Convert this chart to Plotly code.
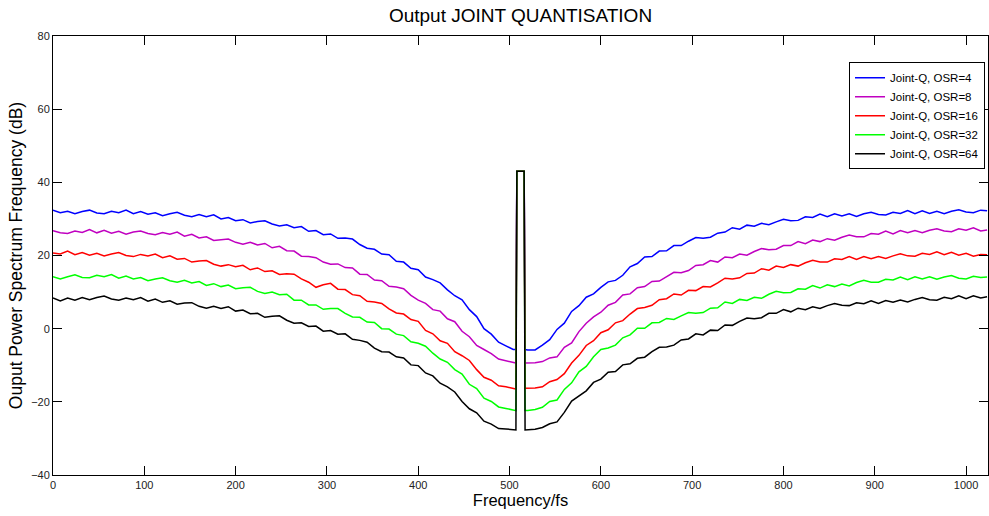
import plotly.graph_objects as go

# ---------------- data ----------------
left_freq = list(range(0, 505, 8)) + [507]
spike_freq = [508, 516]
right_freq = [517] + list(range(520, 1017, 8)) + [1023]

spike_db = [43.0, 43.0]

osr4_left = [32.4, 31.7, 32.1, 31.4, 32.0, 32.4, 31.6, 31.4, 32.1, 31.7, 32.4, 31.4,
             32.0, 31.3, 31.7, 30.9, 31.4, 31.8, 31.0, 30.6, 31.2, 30.6, 31.1, 30.0,
             30.4, 29.5, 29.8, 28.9, 29.3, 29.5, 28.6, 28.1, 28.4, 27.6, 27.9, 26.6,
             26.8, 25.7, 25.9, 24.7, 24.8, 24.5, 23.0, 22.0, 21.7, 20.4, 20.2, 18.4,
             18.2, 16.5, 16.1, 14.1, 13.4, 12.5, 10.6, 9.0, 7.9, 5.2, 3.3, 0.0,
             -1.5, -3.7, -4.7, -5.7, -5.7]
osr4_right = [-5.7, -5.8, -5.8, -4.5, -3.0, -0.2, 1.5, 4.7, 6.3, 8.6, 9.5, 11.3,
              12.8, 13.2, 14.6, 16.9, 17.8, 19.6, 19.7, 21.2, 21.3, 22.7, 22.7, 23.9,
              24.9, 24.7, 25.0, 26.1, 26.4, 27.6, 27.2, 28.3, 28.0, 28.8, 28.4, 29.2,
              29.9, 29.5, 29.6, 30.6, 30.4, 31.3, 30.6, 31.4, 30.8, 31.4, 30.7, 31.4,
              31.8, 31.2, 31.1, 31.8, 31.5, 32.3, 31.4, 32.2, 31.5, 32.1, 31.4, 32.1,
              32.5, 31.9, 31.7, 32.4, 32.2]

osr8_left = [26.8, 26.2, 26.0, 26.7, 26.3, 27.1, 26.2, 26.9, 26.1, 26.6, 25.8, 26.4,
             26.7, 26.0, 25.7, 26.3, 25.8, 26.4, 25.3, 25.8, 24.8, 25.1, 24.1, 24.4,
             24.5, 23.6, 23.1, 23.6, 22.9, 23.3, 22.1, 22.5, 21.3, 21.2, 19.8, 19.7,
             19.4, 18.2, 17.6, 17.7, 16.7, 16.6, 14.9, 14.8, 13.3, 13.1, 11.6, 11.4,
             10.9, 9.1, 7.8, 6.9, 5.2, 4.8, 2.7, 1.9, -0.7, -2.2, -4.6, -5.7,
             -6.8, -8.3, -8.8, -9.3, -9.4]
osr8_right = [-9.4, -9.4, -9.3, -9.0, -8.0, -7.7, -5.1, -3.9, -0.8, 1.5, 3.2, 4.5,
              6.4, 7.2, 9.2, 9.5, 11.2, 11.5, 12.9, 13.0, 14.3, 15.4, 15.3, 15.9,
              17.3, 17.5, 18.6, 18.2, 19.6, 19.4, 20.4, 20.1, 21.1, 21.9, 21.6, 21.7,
              22.7, 22.7, 23.8, 23.2, 24.2, 23.8, 24.6, 24.2, 25.0, 25.6, 25.1, 25.1,
              26.0, 25.8, 26.7, 25.9, 26.8, 26.2, 26.8, 26.2, 26.9, 27.3, 26.7, 26.5,
              27.3, 26.9, 27.6, 26.7, 27.0]

osr16_left = [20.7, 20.4, 21.2, 20.2, 20.8, 20.1, 20.6, 19.9, 20.4, 20.8, 20.0, 19.7,
              20.3, 19.9, 20.4, 19.4, 19.9, 19.0, 19.2, 18.2, 18.5, 18.6, 17.6, 17.1,
              17.5, 16.9, 17.3, 16.1, 16.6, 15.6, 15.8, 14.8, 15.0, 14.9, 13.6, 12.7,
              11.3, 12.0, 12.4, 10.8, 10.7, 9.3, 9.0, 7.5, 7.3, 6.9, 5.4, 4.3,
              4.0, 2.5, 2.0, -0.5, -1.4, -3.3, -4.0, -6.3, -7.4, -8.7, -11.2, -13.3,
              -14.1, -15.6, -15.9, -16.4, -16.5]
osr16_right = [-16.3, -16.3, -16.2, -15.9, -14.5, -13.9, -12.3, -9.4, -7.3, -4.6, -3.3, -1.1,
               -0.3, 1.6, 2.2, 4.0, 5.5, 5.8, 6.4, 7.9, 8.2, 9.5, 9.2, 10.5,
               10.4, 11.5, 11.4, 12.5, 13.8, 13.6, 13.9, 15.1, 15.2, 16.4, 16.0, 17.1,
               16.7, 17.5, 17.1, 18.0, 18.7, 18.2, 18.2, 19.1, 18.9, 19.7, 18.9, 19.7,
               19.1, 19.7, 19.2, 19.9, 20.5, 19.9, 19.8, 20.6, 20.3, 21.0, 20.2, 20.9,
               20.1, 20.6, 19.8, 20.3, 20.2]

osr32_left = [14.2, 13.6, 14.2, 14.7, 14.0, 13.9, 14.6, 14.2, 14.8, 13.8, 14.4, 13.6,
              14.0, 13.1, 13.6, 13.9, 13.1, 12.7, 13.2, 12.5, 12.9, 11.8, 12.3, 11.5,
              11.9, 10.9, 11.2, 11.3, 10.2, 9.6, 10.0, 9.3, 9.4, 7.8, 7.8, 6.5,
              6.5, 5.3, 5.5, 5.5, 4.2, 3.2, 3.1, 1.8, 1.7, 0.0, -0.1, -1.5,
              -1.9, -3.6, -4.0, -4.8, -6.7, -8.3, -9.2, -11.2, -12.4, -15.2, -16.4, -19.0,
              -19.9, -21.4, -21.8, -22.3, -22.4]
osr32_right = [-22.4, -22.4, -22.1, -21.5, -19.9, -19.5, -16.6, -14.8, -11.8, -10.3, -7.7, -5.7,
               -5.3, -4.5, -2.5, -1.7, 0.1, 0.1, 1.6, 1.7, 2.8, 2.5, 3.5, 4.4,
               4.2, 4.4, 5.6, 5.7, 7.3, 6.9, 8.0, 7.7, 8.6, 8.3, 9.4, 10.2,
               9.8, 9.9, 10.9, 10.8, 11.8, 11.1, 12.0, 11.5, 12.2, 11.7, 12.6, 13.2,
               12.7, 12.7, 13.5, 13.3, 14.1, 13.4, 14.2, 13.6, 14.2, 13.5, 14.1, 14.5,
               13.8, 13.6, 14.3, 14.0, 14.1]

osr64_left = [8.4, 7.6, 8.4, 7.8, 8.5, 7.9, 8.5, 8.9, 8.1, 7.8, 8.4, 7.9,
              8.5, 7.5, 8.1, 7.2, 7.6, 6.7, 7.0, 7.1, 6.1, 5.6, 6.1, 5.5,
              6.0, 4.8, 5.1, 4.1, 4.2, 3.1, 3.4, 3.5, 2.3, 1.5, 1.6, 0.6,
              0.7, -0.7, -0.5, -1.5, -1.4, -2.9, -3.2, -3.7, -5.3, -6.3, -6.4, -7.7,
              -8.0, -9.9, -10.1, -12.1, -12.9, -14.9, -15.9, -17.3, -19.9, -21.9, -23.0, -25.3,
              -26.1, -27.3, -27.4, -27.7, -27.7]
osr64_right = [-27.7, -27.7, -27.5, -27.0, -26.0, -25.5, -22.9, -19.8, -18.5, -17.0, -14.7, -13.8,
               -11.9, -11.7, -9.9, -9.6, -8.1, -7.8, -6.3, -5.1, -5.0, -4.5, -3.1, -2.8,
               -1.4, -1.7, -0.4, -0.5, 1.0, 0.9, 2.0, 2.9, 2.7, 3.0, 4.2, 4.2,
               5.2, 4.6, 5.6, 5.2, 6.0, 5.5, 6.3, 6.9, 6.4, 6.3, 7.1, 6.8,
               7.6, 6.9, 7.7, 7.2, 7.8, 7.3, 8.0, 8.5, 7.9, 7.8, 8.6, 8.2,
               9.0, 8.2, 9.0, 8.4, 8.7]

series_names = ["Joint-Q, OSR=4", "Joint-Q, OSR=8", "Joint-Q, OSR=16",
                "Joint-Q, OSR=32", "Joint-Q, OSR=64"]
series_left = [osr4_left, osr8_left, osr16_left, osr32_left, osr64_left]
series_right = [osr4_right, osr8_right, osr16_right, osr32_right, osr64_right]
series_colors = ["#0000FF", "#C000C0", "#FF0000", "#00FF00", "#000000"]

x_ticks = [0, 100, 200, 300, 400, 500, 600, 700, 800, 900, 1000]
y_ticks = [-40, -20, 0, 20, 40, 60, 80]

# ---------------- figure ----------------
FONT = "Liberation Sans, Arial, Helvetica, sans-serif"
freq = left_freq + spike_freq + right_freq

fig = go.Figure()
for name, lv, rv, col in zip(series_names, series_left, series_right, series_colors):
    fig.add_trace(go.Scatter(
        x=freq, y=lv + spike_db + rv, mode="lines", name=name,
        line=dict(color=col, width=1.5),
    ))

fig.update_layout(
    width=989, height=516,
    margin=dict(l=53, r=1, t=36, b=41, autoexpand=False),
    paper_bgcolor="white", plot_bgcolor="white",
    font=dict(family=FONT, size=11, color="#222222"),
    title=dict(text="Output JOINT QUANTISATION", x=0.5, xref="paper",
               xanchor="center", y=1 - 15 / 516, yref="container", yanchor="middle",
               font=dict(family=FONT, size=19, color="#000000")),
    showlegend=True,
    legend=dict(x=0.9968, y=0.94, xanchor="right", yanchor="top",
                bgcolor="white", bordercolor="#000000", borderwidth=1,
                font=dict(family=FONT, size=11.5, color="#000000"),
                tracegroupgap=0, itemwidth=30),
)
fig.update_xaxes(
    range=[0, 1024], tickvals=x_ticks, ticks="inside", ticklen=9,
    tickcolor="#000000", showline=True, linecolor="#000000", linewidth=1,
    mirror="allticks", showgrid=False, zeroline=False, automargin=False,
    tickfont=dict(size=11, color="#222222"),
    title=dict(text="Frequency/fs", font=dict(family=FONT, size=16.5, color="#000000"),
               standoff=4),
)
fig.update_yaxes(
    range=[-40, 80], tickvals=y_ticks, ticks="inside", ticklen=9,
    tickcolor="#000000", showline=True, linecolor="#000000", linewidth=1,
    mirror="allticks", showgrid=False, zeroline=False, automargin=False,
    tickfont=dict(size=11, color="#222222"),
    title=dict(text="Ouput Power Spectrum Frequency (dB)",
               font=dict(family=FONT, size=17.5, color="#000000"), standoff=4),
)

fig.write_html(
    "out.html",
    config={"displayModeBar": False},
    post_script=("document.body.style.margin='0';"
                 "document.body.style.overflow='hidden';"
                 "document.documentElement.style.overflow='hidden';"),
)
